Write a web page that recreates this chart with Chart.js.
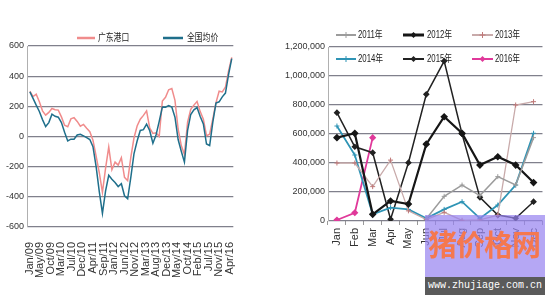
<!DOCTYPE html>
<html>
<head>
<meta charset="utf-8">
<script src="https://cdn.jsdelivr.net/npm/chart.js@4.4.0/dist/chart.umd.min.js"></script>
<style>
  body { margin: 0; background: #fff; }
  #wrap { position: relative; width: 550px; height: 300px; overflow: hidden; background: #fff;
          font-family: "Liberation Sans", "Noto Sans CJK SC", sans-serif; }
  canvas { position: absolute; top: 0; }
  .lg { position: absolute; font-size: 10px; line-height: 12px; color: #222; white-space: nowrap;
        transform: scaleX(0.78); transform-origin: 0 50%; }
  svg.legend { position: absolute; left: 0; top: 0; }
  .wm { position: absolute; left: 425px; top: 215px; width: 120px; height: 62px;
        background: rgba(150, 130, 240, 0.7); overflow: hidden; }
  .wm span { position: absolute; left: 3px; top: 10px; font-family: "Noto Sans CJK SC", sans-serif;
             font-weight: 700; font-size: 29px; line-height: 36px; color: #f5784f; letter-spacing: -1px; }
  .wm-bar { position: absolute; left: 425px; top: 277px; width: 120px; height: 18px; background: #5a5a5a;
            color: #fff; font-family: "Liberation Mono", monospace; font-size: 10px; line-height: 18px;
            text-align: center; }
</style>
</head>
<body>
<div id="wrap">
  <canvas id="spread" width="250" height="300" style="left:0"></canvas>
  <canvas id="imports" width="275" height="300" style="left:275px"></canvas>

  <svg class="legend" width="550" height="300">
    <!-- left legend -->
    <line x1="77" y1="38" x2="95" y2="38" stroke="#f08c8c" stroke-width="2.5"/>
    <line x1="163" y1="38" x2="183" y2="38" stroke="#1f6f8b" stroke-width="2.5"/>
    <!-- right legend, row 1 -->
    <line x1="336" y1="35" x2="356" y2="35" stroke="#9c9c9c" stroke-width="2"/>
    <path d="M343 35h6M346 32v6" stroke="#9c9c9c" stroke-width="1"/>
    <line x1="403" y1="35" x2="424" y2="35" stroke="#161616" stroke-width="3"/>
    <path d="M413.5 32l3 3-3 3-3-3z" fill="#161616"/>
    <line x1="472" y1="35" x2="493" y2="35" stroke="#c8aaaa" stroke-width="2"/>
    <path d="M479.5 35h6M482.5 32v6" stroke="#c07878" stroke-width="1"/>
    <!-- right legend, row 2 -->
    <line x1="336" y1="59" x2="356" y2="59" stroke="#2f94b5" stroke-width="2"/>
    <path d="M343 59h6M346 56v6" stroke="#2f94b5" stroke-width="1"/>
    <line x1="403" y1="59" x2="424" y2="59" stroke="#222" stroke-width="2"/>
    <path d="M413.5 56l3 3-3 3-3-3z" fill="#222"/>
    <line x1="472" y1="59" x2="493" y2="59" stroke="#e0399a" stroke-width="2"/>
    <path d="M482.5 56l3 3-3 3-3-3z" fill="#e0399a"/>
  </svg>

  <div class="lg" style="left:98px;top:32px">广东港口</div>
  <div class="lg" style="left:187px;top:32px">全国均价</div>
  <div class="lg" style="left:358px;top:29px">2011年</div>
  <div class="lg" style="left:427px;top:29px">2012年</div>
  <div class="lg" style="left:495px;top:29px">2013年</div>
  <div class="lg" style="left:358px;top:53px">2014年</div>
  <div class="lg" style="left:427px;top:53px">2015年</div>
  <div class="lg" style="left:495px;top:53px">2016年</div>

  <div class="wm"><span>猪价格网</span></div>
  <div class="wm-bar">www.zhujiage.com.cn</div>
</div>

<script>
// left chart: weekly spread, sampled every 6 weeks from Jan/09
const priceTicks = ["Jan/09", "May/09", "Oct/09", "Mar/10", "Jul/10", "Dec/10", "Apr/11", "Sep/11",
  "Jan/12", "Jun/12", "Nov/12", "Mar/13", "Aug/13", "Dec/13", "May/14", "Oct/14", "Feb/15",
  "Jul/15", "Nov/15", "Apr/16"];
const tickEvery = 20; // weeks between labels
const sampleStep = 6; // weeks between samples

const gzPort = [300, 265, 280, 230, 170, 142, 160, 186, 178, 175, 130, 75, 65, 117, 125, 100, 68,
  80, 55, 32, -25, -130, -240, -370, -210, -70, -220, -170, -190, -140, -271, -293, -138, -10, 70,
  115, 140, 170, 55, 20, 25, 0, 235, 260, 310, 318, 240, 50, -60, -120, 95, 180, 208, 232, 165,
  115, 5, 15, 117, 225, 300, 295, 328, 435, 525];
const national = [296, 253, 208, 166, 112, 66, 92, 148, 134, 128, 92, 28, -30, -18, -18, 10, 15,
  4, -7, -20, -67, -200, -365, -510, -360, -257, -283, -305, -332, -313, -393, -413, -271, -115,
  -30, 40, 45, 82, 38, -45, 10, 100, 195, 194, 205, 196, 128, -20, -98, -170, 40, 146, 177, 192,
  132, 83, -50, -60, 95, 222, 230, 263, 288, 412, 516];

// right chart: monthly volumes by year
const months = ["Jan", "Feb", "Mar", "Apr", "May", "Jun", "Jul", "Aug", "Sep", "Oct", "Nov", "Dec"];
const y2011 = [null, null, null, null, null, 15000, 170000, 248000, 175000, 306000, 248000, 575000];
const y2012 = [575000, 605000, 46000, 138000, 117000, 530000, 719000, 605000, 386000, 443000, 386000, 265000];
const y2013 = [400000, 400000, 237000, 420000, 70000, 10000, 60000, 5000, 8000, 40000, 800000, 823000];
const y2014 = [655000, 455000, 46000, 92000, 80000, 19000, 80000, 133000, 18000, 110000, 248000, 605000];
const y2015 = [747000, 512000, 471000, 12000, 402000, 874000, 1103000, 600000, 163000, 41000, 19000, 133000];
const y2016 = [7000, 57000, 575000, null, null, null, null, null, null, null, null, null];

const gridColor = "#80808c";
const textColor = "#333";

function toPoints(values) {
  return values.map((v, i) => ({ x: i * sampleStep, y: v }));
}

new Chart(document.getElementById("spread"), {
  type: "line",
  data: {
    datasets: [
      { label: "全国均价", data: toPoints(national), borderColor: "#1f6f8b", borderWidth: 1.5,
        pointRadius: 0, tension: 0, order: 0 },
      { label: "广东港口", data: toPoints(gzPort), borderColor: "#f08c8c", borderWidth: 1.5,
        pointRadius: 0, tension: 0, order: 1 },
    ],
  },
  options: {
    responsive: false,
    animation: false,
    devicePixelRatio: 1,
    layout: { padding: { top: 46, right: 9, left: 0, bottom: 0 } },
    plugins: { legend: { display: false }, tooltip: { enabled: false } },
    scales: {
      x: {
        type: "linear",
        min: -5.5,
        max: 387,
        afterBuildTicks: (s) => { s.ticks = priceTicks.map((_, k) => ({ value: k * tickEvery })); },
        afterFit: (s) => { s.height = 73; },
        grid: { display: false },
        border: { display: false },
        ticks: {
          autoSkip: false, minRotation: 90, maxRotation: 90, padding: 7,
          font: { size: 11, family: "Liberation Sans" }, color: textColor,
          callback: (v) => priceTicks[Math.round(v / tickEvery)],
        },
      },
      y: {
        min: -600,
        max: 600,
        afterFit: (s) => { s.width = 27; },
        grid: { color: gridColor, lineWidth: 1.3, drawTicks: false },
        border: { display: true, color: "#b0b0b0" },
        ticks: { stepSize: 200, padding: 3, font: { size: 9, family: "Liberation Sans" }, color: textColor },
      },
    },
  },
});

new Chart(document.getElementById("imports"), {
  type: "line",
  data: {
    labels: months,
    datasets: [
      { label: "2011年", data: y2011, borderColor: "#9c9c9c", borderWidth: 1.5, pointStyle: "cross",
        pointRadius: 2.5, pointBorderColor: "#9c9c9c", pointBorderWidth: 1 },
      { label: "2012年", data: y2012, borderColor: "#161616", borderWidth: 2.2, pointStyle: "rectRot",
        pointRadius: 2.3, pointBackgroundColor: "#161616", pointBorderColor: "#161616" },
      { label: "2013年", data: y2013, borderColor: "#c8aaaa", borderWidth: 1.3, pointStyle: "cross",
        pointRadius: 2.5, pointBorderColor: "#c07878", pointBorderWidth: 1 },
      { label: "2014年", data: y2014, borderColor: "#2f94b5", borderWidth: 1.8, pointStyle: "cross",
        pointRadius: 2.5, pointBorderColor: "#2f94b5", pointBorderWidth: 1 },
      { label: "2015年", data: y2015, borderColor: "#222", borderWidth: 1.5, pointStyle: "rectRot",
        pointRadius: 2.3, pointBackgroundColor: "#222", pointBorderColor: "#222" },
      { label: "2016年", data: y2016, borderColor: "#e0399a", borderWidth: 1.8, pointStyle: "rectRot",
        pointRadius: 2.3, pointBackgroundColor: "#e0399a", pointBorderColor: "#e0399a" },
    ],
  },
  options: {
    responsive: false,
    animation: false,
    devicePixelRatio: 1,
    layout: { padding: { top: 47, right: 2, left: 0, bottom: 0 } },
    plugins: { legend: { display: false }, tooltip: { enabled: false } },
    elements: { line: { tension: 0 } },
    scales: {
      x: {
        offset: true,
        afterFit: (s) => { s.height = 79; },
        grid: { offset: true, drawOnChartArea: false, drawTicks: true, tickLength: 4, color: "#999" },
        border: { display: false },
        ticks: {
          autoSkip: false, minRotation: 90, maxRotation: 90, padding: 3,
          font: { size: 11, family: "Liberation Sans" }, color: textColor,
        },
      },
      y: {
        min: 0,
        max: 1200000,
        afterFit: (s) => { s.width = 53; },
        grid: { color: gridColor, lineWidth: 1.3, drawTicks: false },
        border: { display: true, color: "#b0b0b0" },
        ticks: {
          stepSize: 200000, padding: 3, font: { size: 9, family: "Liberation Sans" }, color: textColor,
          callback: (v) => v.toLocaleString("en-US"),
        },
      },
    },
  },
});
</script>
</body>
</html>
